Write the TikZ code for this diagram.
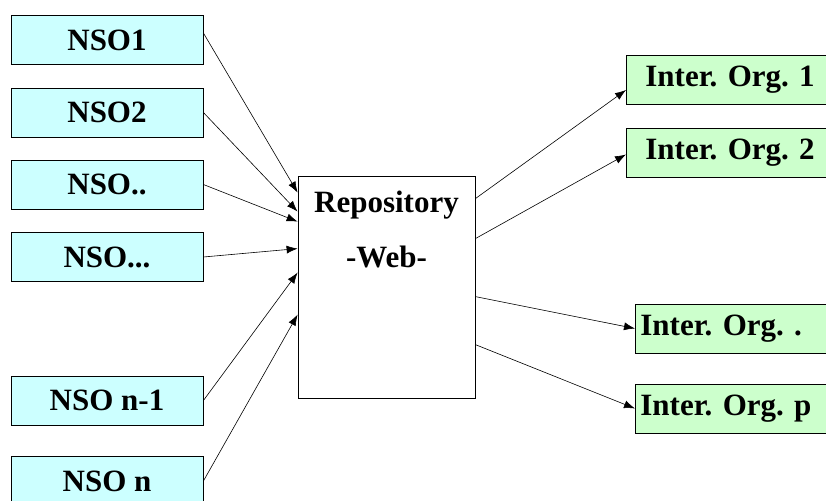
\documentclass[tikz,border=0pt]{standalone}
\usepackage{fontspec}
\setmainfont{Liberation Serif}
\usetikzlibrary{calc,arrows.meta}
\definecolor{nsocyan}{HTML}{CCFFFF}
\definecolor{orggreen}{HTML}{CCFFCC}
\tikzset{%
nsobox/.style={draw,fill=nsocyan,minimum width=192pt,minimum height=49pt,inner sep=0pt},
orgbox/.style={draw,fill=orggreen,anchor=west,text width=190pt,align=left,minimum height=49pt,inner ysep=0pt},
flow/.style={-{Latex[length=11pt,width=8pt]},line width=0.6pt},
}
\begin{document}
\frenchspacing
\begin{tikzpicture}[x=1pt,y=-1pt,
                    every node/.append style={font=\fontsize{31}{37}\selectfont\bfseries},
                    line width=0.8pt]
\useasboundingbox (0,0) rectangle (826,500);
\clip (0,0) rectangle (826,500);

\node[nsobox] (nso1) at (107,40) {NSO1};
\node[nsobox] (nso2) at (107,112.5) {NSO2};
\node[nsobox] (nsodd) at (107,184.5) {NSO..};
\node[nsobox] (nsoddd) at (107,257) {NSO...};
\node[nsobox] (nsonm) at (107,400.5) {NSO n-1};
\node[nsobox] (nson) at (107,481) {NSO n};

\node[draw,fill=white,minimum width=177pt,minimum height=222pt] (repo) at (386.5,287) {};
\node[anchor=base] (reptitle) at ($(repo.north)+(0,37)$) {Repository};
\node[anchor=base] (webtitle) at ($(repo.north)+(0,92)$) {-Web-};

\node[orgbox,inner xsep=19pt] (org1) at (626,80) {Inter. Org. 1};
\node[orgbox,inner xsep=19pt] (org2) at (626,152.5) {Inter. Org. 2};
\node[orgbox,inner xsep=5pt] (orgd) at (635,328.5) {Inter. Org. .};
\node[orgbox,inner xsep=5pt] (orgp) at (635,408.5) {Inter. Org. p};

\draw[flow] ($(nso1.east)+(0,-7)$) -- ($(repo.north west)+(0,17)$);
\draw[flow] (nso2.east) -- ($(repo.north west)+(0,36)$);
\draw[flow] (nsodd.east) -- ($(repo.north west)+(0,46)$);
\draw[flow] (nsoddd.east) -- ($(repo.north west)+(0,73)$);
\draw[flow] (nsonm.east) -- ($(repo.north west)+(0,97)$);
\draw[flow] (nson.east) -- ($(repo.north west)+(0,139)$);

\draw[flow] ($(repo.north east)+(0,23)$) -- ($(org1.west)+(0,10)$);
\draw[flow] ($(repo.north east)+(0,63)$) -- ($(org2.west)+(0,2)$);
\draw[flow] ($(repo.north east)+(0,121)$) -- (orgd.west);
\draw[flow] ($(repo.north east)+(0,169)$) -- (orgp.west);
\end{tikzpicture}
\end{document}
